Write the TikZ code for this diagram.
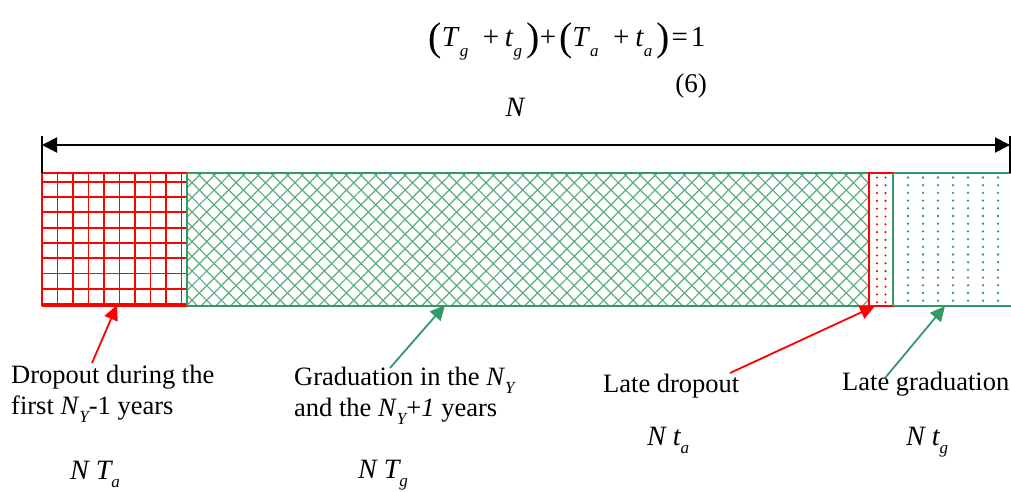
\documentclass[tikz,border=0pt]{standalone}
\usepackage{fontspec}
\setmainfont{Liberation Serif}
\usetikzlibrary{arrows.meta}
\definecolor{rd}{RGB}{255,0,0}
\definecolor{gr}{RGB}{51,153,102}
\newcommand{\sbs}[1]{\raisebox{-0.32em}{\fontsize{17}{17}\selectfont\itshape #1}}
\newcommand{\txsub}[1]{\raisebox{-0.3em}{\fontsize{17}{17}\selectfont\itshape #1}}
\begin{document}
\begin{tikzpicture}[x=1pt,y=-1pt,
  lbl/.style={font=\fontsize{26.5}{31}\selectfont, inner sep=0, anchor=north west, align=left},
  mth/.style={font=\fontsize{28}{32}\selectfont\itshape, inner sep=0, anchor=base west},
  redarr/.style={draw=rd, line width=1.8pt, -{Triangle[length=15pt,width=14pt]}},
  grnarr/.style={draw=gr, line width=1.8pt, -{Triangle[length=15pt,width=14pt]}},
  dimarr/.style={draw=black, line width=2pt, {Triangle[length=15pt,width=15pt]}-{Triangle[length=15pt,width=15pt]}},
  gridline/.style={draw=rd, line width=1.8pt},
  hatchline/.style={draw=gr!80, line width=1.2pt},
]
\useasboundingbox (0,0) rectangle (1011,492);

% equation
\node[inner sep=0, anchor=base] (eq) at (567,47) {\fontsize{29}{32}\selectfont
  \raisebox{-0.12em}{\fontsize{40}{40}\selectfont(}\textit{T}\sbs{g}\hspace{0.5em}+\hspace{0.2em}\textit{t}\sbs{g}\hspace{0.15em}\raisebox{-0.12em}{\fontsize{40}{40}\selectfont)}+\hspace{0.1em}\raisebox{-0.12em}{\fontsize{40}{40}\selectfont(}\textit{T}\sbs{a}\hspace{0.5em}+\hspace{0.2em}\textit{t}\sbs{a}\hspace{0.15em}\raisebox{-0.12em}{\fontsize{40}{40}\selectfont)}\hspace{0.05em}=\hspace{0.1em}1};
\node[inner sep=0, anchor=base] (eqn) at (691,93) {\fontsize{27}{30}\selectfont (6)};

% patterns
\begin{scope}
  \clip (42,173) rectangle (187,306);
  \foreach \i in {0,...,9} \draw[gridline] (42+\i*15.5,173) -- (42+\i*15.5,306);
  \foreach \j in {0,...,9} \draw[gridline] (42,181.7+\j*15.3) -- (187,181.7+\j*15.3);
\end{scope}
\begin{scope}
  \clip (187,173) rectangle (869,306);
  \foreach \c in {0,...,56} {
    \draw[hatchline] (50+\c*14.7,173) -- ++(140,140);
    \draw[hatchline] (187+\c*14.7,173) -- ++(-140,140);
  }
\end{scope}
\begin{scope}
  \foreach \j in {0,...,16} {
    \fill[rd] (877,177.5+\j*7.8) circle (1.2pt);
    \fill[rd] (885.5,177.5+\j*7.8) circle (1.2pt);
  }
  \foreach \i in {0,...,6} \foreach \j in {0,...,16}
    \fill[gr] (908+\i*15,177.5+\j*7.7) circle (1.3pt);
\end{scope}

% outlines
\draw[rd, line width=2pt] (42,173) -- (187,173);
\draw[rd, line width=2.4pt] (42,306) -- (187,306);
\draw[rd, line width=1.8pt] (42,173) -- (42,306);
\draw[gr, line width=2pt] (187,173) -- (869,173);
\draw[gr, line width=2.4pt] (187,306) -- (869,306);
\draw[gr, line width=2.2pt] (187,173) -- (187,306);
\draw[gr, line width=2pt] (893,173) -- (1011,173);
\draw[gr, line width=2.4pt] (893,306) -- (1011,306);
\draw[rd, line width=2.2pt] (869,173) rectangle (893,306);
\draw[gr, line width=2pt] (893,173) -- (893,306);

% dimension arrow
\coordinate (dl) at (42,145);
\coordinate (dr) at (1010,145);
\draw[line width=2pt] (42,136) -- (42,173);
\draw[line width=2pt] (1010,136) -- (1010,173);
\draw[dimarr] (dl) -- (dr);
\node[mth, anchor=base] (nlab) at (515,117) {N};

% labels
\node[lbl] (drop) at (11,365) {Dropout during the\\first \textit{N}\txsub{Y}-1 years};
\node[lbl] (grad) at (294,367) {Graduation in the \textit{N}\txsub{Y}\\and the \textit{N}\txsub{Y}+\textit{1} years};
\node[lbl] (ldrop) at (603,374) {Late dropout};
\node[lbl] (lgrad) at (842,372) {Late graduation};

\node[mth] (nta) at (70,479) {N\hspace{0.25em}T\sbs{a}};
\node[mth] (ntg) at (358,478) {N\hspace{0.25em}T\sbs{g}};
\node[mth] (nsa) at (647,445) {N\hspace{0.25em}t\sbs{a}};
\node[mth] (nsg) at (906,445) {N\hspace{0.25em}t\sbs{g}};

% connectors
\coordinate (a1) at (92,363);  \coordinate (b1) at (117,305);
\coordinate (a2) at (390,368); \coordinate (b2) at (445,305);
\coordinate (a3) at (730,373); \coordinate (b3) at (875,306);
\coordinate (a4) at (885,378); \coordinate (b4) at (945,306);
\draw[redarr] (a1) -- (b1);
\draw[grnarr] (a2) -- (b2);
\draw[redarr] (a3) -- (b3);
\draw[grnarr] (a4) -- (b4);
\end{tikzpicture}
\end{document}
